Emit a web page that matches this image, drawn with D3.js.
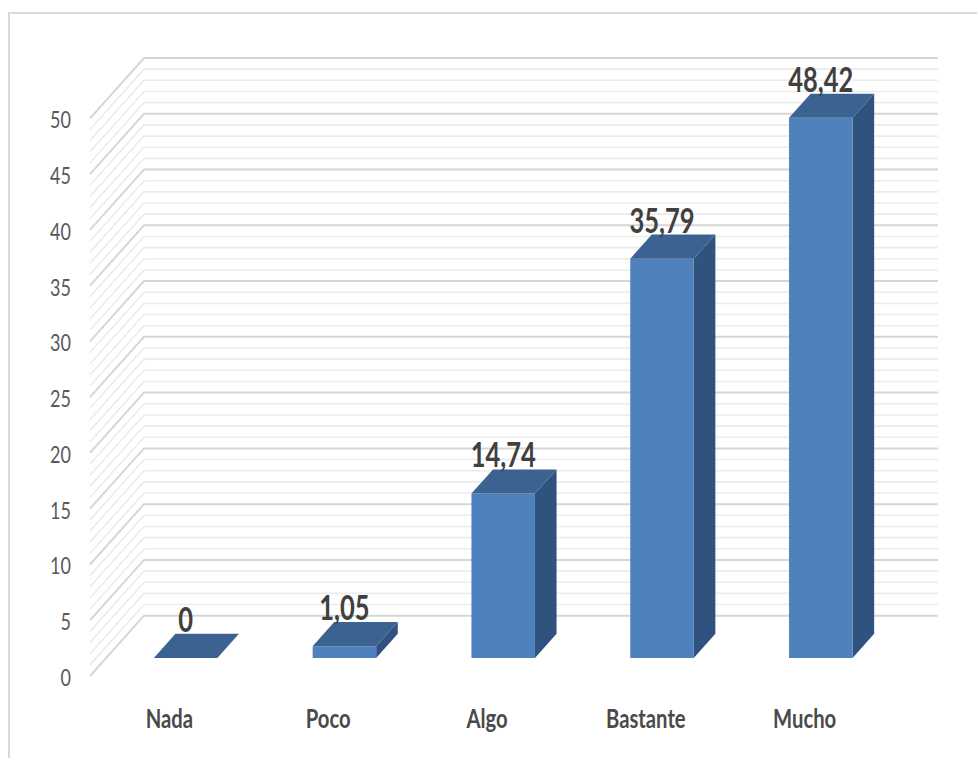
<!DOCTYPE html>
<html>
<head>
<meta charset="utf-8">
<script src="https://cdn.jsdelivr.net/npm/d3@7"></script>
<style>
  html, body { margin: 0; padding: 0; background: #ffffff; }
  svg { display: block; }
  text { font-family: Lato, "Open Sans", sans-serif; }
</style>
</head>
<body>
<svg id="chart" width="977" height="758"></svg>
<script>
// Data
const categories = ["Nada", "Poco", "Algo", "Bastante", "Mucho"];
const values = [0, 1.05, 14.74, 35.79, 48.42];
const valueLabels = ["0", "1,05", "14,74", "35,79", "48,42"];
const yTicks = [0, 5, 10, 15, 20, 25, 30, 35, 40, 45, 50];

// Layout of the 3D box: front plane and depth offset toward the back wall
const W = 977, H = 758;
const front = { left: 90, right: 884, bottom: 676, top: 118.3 };
const depth = { dx: 54, dy: -60.3 };      // full depth of the plot box
const barFrontDepth = 0.3, barBackDepth = 0.7;
const textScale = 0.75;                  // condensed look of the labels

const colors = {
  front: "#4f81bd",
  top: "#3b6291",
  side: "#30527f",
  gridMajor: "#d6d6d6",
  gridMinor: "#ececec",
  frame: "#d9d9d9",
  axisText: "#595959",
  catText: "#4a4a4a",
  valueText: "#404040"
};

const svg = d3.select("#chart");

const x = d3.scaleBand()
  .domain(categories)
  .range([front.left, front.right])
  .paddingInner(0.6)
  .paddingOuter(0.3);

const y = d3.scaleLinear().domain([0, 50]).range([front.bottom, front.top]);

// project a point on the front plane back by a depth fraction
const px = (xv, d) => xv + depth.dx * d;
const py = (yv, d) => yv + depth.dy * d;

// Outer chart frame
svg.append("rect")
  .attr("x", 9).attr("y", 13)
  .attr("width", W + 20).attr("height", H + 20)
  .attr("fill", "none")
  .attr("stroke", colors.frame)
  .attr("stroke-width", 2);

// Gridlines: back wall and left side wall, every unit, major every 5
const gridVals = d3.range(0, 51, 1);
const grid = svg.append("g").attr("fill", "none");
gridVals.slice().sort((a, b) => (a % 5 === 0) - (b % 5 === 0)).forEach(v => {
  const major = v % 5 === 0;
  const yf = y(v);
  const pts = [
    [px(front.left, 0), yf],
    [px(front.left, 1), py(yf, 1)],
    [px(front.right, 1), py(yf, 1)]
  ];
  grid.append("path")
    .attr("d", d3.line()(pts))
    .attr("stroke", major ? colors.gridMajor : colors.gridMinor)
    .attr("stroke-width", major ? 2 : 1.6);
});

// Tick labels on the front edge of the side wall
const ticks = svg.append("g");
yTicks.forEach(t => {
  ticks.append("text")
    .attr("transform", `translate(71,${y(t) + 10}) scale(${textScale},1)`)
    .attr("text-anchor", "end")
    .attr("font-size", 24)
    .attr("fill", colors.axisText)
    .text(t);
});

// 3D bars
const bars = svg.append("g");
categories.forEach((c, i) => {
  const x0 = x(c), x1 = x(c) + x.bandwidth();
  const yb = y(0), yt = y(values[i]);
  const d0 = barFrontDepth, d1 = barBackDepth;
  const g = bars.append("g");
  // right side face
  g.append("path")
    .attr("d", d3.line()([
      [px(x1, d0), py(yt, d0)], [px(x1, d1), py(yt, d1)],
      [px(x1, d1), py(yb, d1)], [px(x1, d0), py(yb, d0)]
    ]) + "Z")
    .attr("fill", colors.side);
  // front face
  g.append("path")
    .attr("d", d3.line()([
      [px(x0, d0), py(yt, d0)], [px(x1, d0), py(yt, d0)],
      [px(x1, d0), py(yb, d0)], [px(x0, d0), py(yb, d0)]
    ]) + "Z")
    .attr("fill", colors.front);
  // top face
  g.append("path")
    .attr("d", d3.line()([
      [px(x0, d0), py(yt, d0)], [px(x1, d0), py(yt, d0)],
      [px(x1, d1), py(yt, d1)], [px(x0, d1), py(yt, d1)]
    ]) + "Z")
    .attr("fill", colors.top);
});

// Value labels above each bar
const vlab = svg.append("g");
categories.forEach((c, i) => {
  const cx = px(x(c) + x.bandwidth() / 2, barFrontDepth);
  const ty = py(y(values[i]), barBackDepth) - 2;
  vlab.append("text")
    .attr("transform", `translate(${cx},${ty}) scale(${textScale},1)`)
    .attr("text-anchor", "middle")
    .attr("font-size", 34)
    .attr("font-weight", "bold")
    .attr("fill", colors.valueText)
    .text(valueLabels[i]);
});

// Category labels under the front plane
const clab = svg.append("g");
categories.forEach(c => {
  clab.append("text")
    .attr("transform", `translate(${x(c) + x.bandwidth() / 2},728) scale(${textScale},1)`)
    .attr("text-anchor", "middle")
    .attr("font-size", 27)
    .attr("font-weight", "bold")
    .attr("fill", colors.catText)
    .text(c);
});
</script>
</body>
</html>
